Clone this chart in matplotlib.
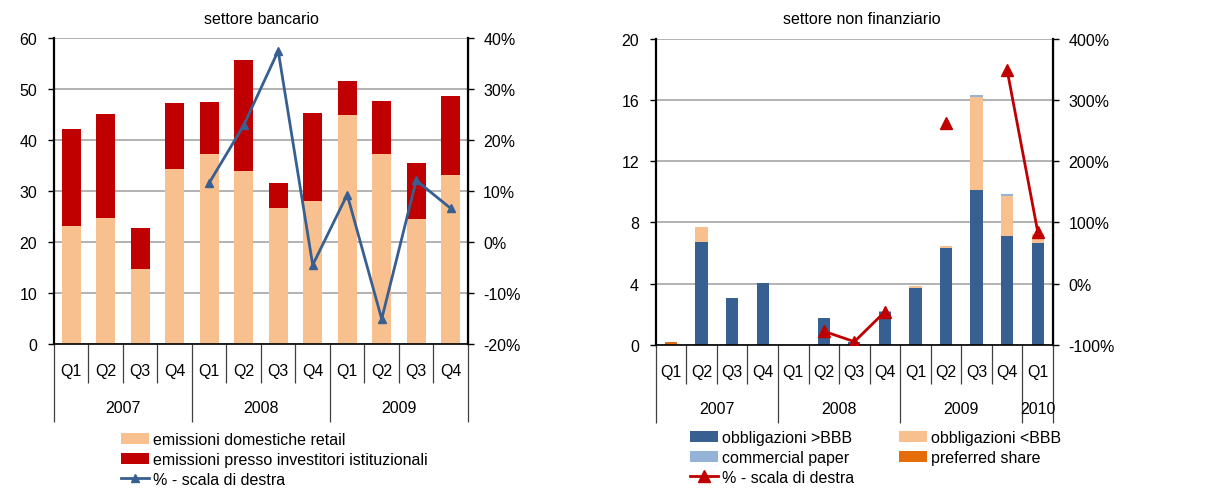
import numpy as np
import matplotlib.pyplot as plt
from matplotlib.transforms import offset_copy

plt.rcParams['font.family'] = ['Liberation Sans Narrow', 'Liberation Sans', 'DejaVu Sans']
plt.rcParams['font.size'] = 11.5

# --- settore bancario ---
bank_quarters = ['Q1', 'Q2', 'Q3', 'Q4'] * 3
bank_years = ['2007', '2008', '2009']
retail = [23.1, 24.8, 14.8, 34.3, 37.3, 34.0, 26.6, 28.1, 44.9, 37.3, 24.5, 33.1]
istituzionali = [19.0, 20.4, 8.0, 13.0, 10.2, 21.8, 5.0, 17.3, 6.6, 10.4, 11.1, 15.6]
bank_pct = [np.nan, np.nan, np.nan, np.nan, 11.6, 22.9, 37.5, -4.5, 9.3, -15.1, 12.1, 6.6]

# --- settore non finanziario ---
nf_quarters = ['Q1', 'Q2', 'Q3', 'Q4'] * 3 + ['Q1']
nf_years = ['2007', '2008', '2009', '2010']
obbl_hi = [0, 6.72, 3.03, 4.06, 0, 1.74, 0.15, 2.16, 3.73, 6.35, 10.12, 7.13, 6.65]
obbl_lo = [0, 0.96, 0, 0, 0, 0, 0, 0, 0.11, 0.10, 6.11, 2.62, 0.57]
comm_paper = [0, 0, 0, 0, 0, 0, 0, 0.05, 0, 0, 0.11, 0.11, 0]
pref_share = [0.17, 0, 0, 0, 0, 0, 0, 0, 0, 0, 0, 0, 0]
nf_pct = [np.nan, np.nan, np.nan, np.nan, np.nan, -78, -95, -46, np.nan, 263, np.nan, 349, 85]

PEACH = '#F9C08F'
DARKRED = '#C00000'
BLUE = '#375F91'
LIGHTBLUE = '#95B3D7'
ORANGE = '#E46C0A'
GRID = '#A6A6A6'


def category_axis(ax, quarters, year_bounds, years):
    n = len(quarters)
    ax.set_xlim(-0.5, n - 0.5)
    ax.set_xticks(year_bounds)
    ax.set_xticks(np.arange(n + 1) - 0.5, minor=True)
    ax.set_xticklabels([])
    ax.tick_params(axis='x', which='major', length=56, width=0.9, color='#404040')
    ax.tick_params(axis='x', which='minor', length=28, width=0.9, color='#404040')
    fig = ax.figure
    qtr = offset_copy(ax.get_xaxis_transform(), fig=fig, y=-19, units='points')
    yrt = offset_copy(ax.get_xaxis_transform(), fig=fig, y=-46, units='points')
    for i, q in enumerate(quarters):
        ax.text(i, 0, q, transform=qtr, ha='center', va='center')
    for k, y in enumerate(years):
        c = (year_bounds[k] + year_bounds[k + 1]) / 2
        ax.text(c, 0, y, transform=yrt, ha='center', va='center')


def style_axes(ax, ax2):
    for a in (ax, ax2):
        a.spines['top'].set_visible(False)
    ax.spines['left'].set_linewidth(1.6)
    ax.spines['bottom'].set_linewidth(1.2)
    ax2.spines['right'].set_linewidth(1.6)
    ax2.spines['left'].set_visible(False)
    ax2.spines['bottom'].set_visible(False)
    ax.tick_params(axis='y', length=4, width=1, pad=8)
    ax2.tick_params(axis='y', length=4, width=1, pad=7)
    ax.yaxis.grid(True, color=GRID, linewidth=1.2)
    ax.set_axisbelow(True)


fig = plt.figure(figsize=(12.07, 4.89), dpi=100)

# left chart
ax = fig.add_axes([0.0447, 0.2945, 0.3430, 0.6255])
x = np.arange(len(bank_quarters))
ax.bar(x, retail, width=0.54, color=PEACH, label='emissioni domestiche retail')
ax.bar(x, istituzionali, width=0.54, bottom=retail, color=DARKRED,
       label='emissioni presso investitori istituzionali')
ax.set_ylim(0, 60)
ax.set_yticks(range(0, 61, 10))
ax2 = ax.twinx()
ax2.plot(x, bank_pct, color=BLUE, linewidth=2, marker='^', markersize=6,
         label='% - scala di destra')
ax2.set_ylim(-20, 40)
ax2.set_yticks(range(-20, 41, 10))
ax2.set_yticklabels([f'{v}%' for v in range(-20, 41, 10)])
style_axes(ax, ax2)
category_axis(ax, bank_quarters, [-0.5, 3.5, 7.5, 11.5], bank_years)
fig.text(0.217, 1 - 19 / 489, 'settore bancario', ha='center', va='center')

h1, l1 = ax.get_legend_handles_labels()
h2, l2 = ax2.get_legend_handles_labels()
fig.legend(h1 + h2, l1 + l2, loc='upper left', bbox_to_anchor=(121 / 1207, 1 - 433 / 489),
           frameon=False, borderpad=0, handlelength=1.75, handletextpad=0.25,
           labelspacing=0.3, borderaxespad=0)

# right chart
bx = fig.add_axes([0.5433, 0.2930, 0.3291, 0.6252])
x = np.arange(len(nf_quarters))
b1 = np.array(obbl_hi)
b2 = b1 + np.array(obbl_lo)
b3 = b2 + np.array(comm_paper)
bx.bar(x, obbl_hi, width=0.4, color=BLUE, label='obbligazioni >BBB')
bx.bar(x, obbl_lo, width=0.4, bottom=b1, color=PEACH, label='obbligazioni <BBB')
bx.bar(x, comm_paper, width=0.4, bottom=b2, color=LIGHTBLUE, label='commercial paper')
bx.bar(x, pref_share, width=0.4, bottom=b3, color=ORANGE, label='preferred share')
bx.set_ylim(0, 20)
bx.set_yticks(range(0, 21, 4))
bx2 = bx.twinx()
bx2.plot(x, nf_pct, color=DARKRED, linewidth=2, marker='^', markersize=8,
         label='% - scala di destra')
bx2.set_ylim(-100, 400)
bx2.set_yticks(range(-100, 401, 100))
bx2.set_yticklabels([f'{v}%' for v in range(-100, 401, 100)])
style_axes(bx, bx2)
category_axis(bx, nf_quarters, [-0.5, 3.5, 7.5, 11.5, 12.5], nf_years)
fig.text(0.714, 1 - 19 / 489, 'settore non finanziario', ha='center', va='center')

h1, l1 = bx.get_legend_handles_labels()
h2, l2 = bx2.get_legend_handles_labels()
order = [h1[0], h1[2], h2[0], h1[1], h1[3]]
labels = [l1[0], l1[2], l2[0], l1[1], l1[3]]
fig.legend(order, labels, ncol=2, loc='upper left', bbox_to_anchor=(690 / 1207, 1 - 431 / 489),
           frameon=False, borderpad=0, handlelength=1.75, handletextpad=0.25,
           labelspacing=0.3, columnspacing=2.8, borderaxespad=0)

fig.savefig('out.png', dpi=100)
